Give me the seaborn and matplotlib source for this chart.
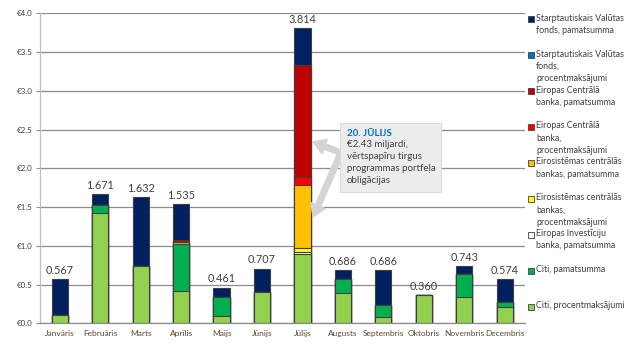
import numpy as np
import pandas as pd
import matplotlib
matplotlib.use("Agg")
import matplotlib.pyplot as plt
from matplotlib.patches import Rectangle
import seaborn as sns

# ---------------- data ----------------
months = ["Janvāris", "Februāris", "Marts", "Aprīlis", "Maijs", "Jūnijs",
          "Jūlijs", "Augusts", "Septembris", "Oktobris", "Novembris", "Decembris"]

# stack order bottom -> top
citi_proc     = [0.110, 1.420, 0.744, 0.423, 0.090, 0.400, 0.900, 0.385, 0.077, 0.360, 0.333, 0.205]
citi_pamat    = [0.000, 0.106, 0.000, 0.597, 0.250, 0.000, 0.000, 0.187, 0.153, 0.000, 0.307, 0.065]
eib_pamat     = [0.000, 0.000, 0.000, 0.000, 0.000, 0.000, 0.020, 0.000, 0.000, 0.000, 0.000, 0.000]
esb_proc      = [0.000, 0.000, 0.000, 0.000, 0.000, 0.000, 0.050, 0.000, 0.000, 0.000, 0.000, 0.000]
esb_pamat     = [0.000, 0.000, 0.000, 0.026, 0.000, 0.000, 0.810, 0.000, 0.000, 0.000, 0.000, 0.000]
ecb_proc      = [0.000, 0.000, 0.000, 0.000, 0.000, 0.000, 0.110, 0.000, 0.000, 0.000, 0.000, 0.000]
ecb_pamat     = [0.000, 0.000, 0.000, 0.024, 0.000, 0.000, 1.440, 0.000, 0.000, 0.000, 0.000, 0.000]
svf_proc      = [0.000, 0.000, 0.000, 0.000, 0.000, 0.000, 0.000, 0.000, 0.000, 0.000, 0.000, 0.000]
svf_pamat     = [0.457, 0.145, 0.888, 0.465, 0.121, 0.307, 0.484, 0.114, 0.456, 0.000, 0.103, 0.304]

series = [
    ("Citi, procentmaksājumi", citi_proc, "#92d050"),
    ("Citi, pamatsumma", citi_pamat, "#00b050"),
    ("Eiropas Investīciju\nbanka, pamatsumma", eib_pamat, "#ffffff"),
    ("Eirosistēmas centrālās\nbankas,\nprocentmaksājumi", esb_proc, "#ffff00"),
    ("Eirosistēmas centrālās\nbankas, pamatsumma", esb_pamat, "#ffc000"),
    ("Eiropas Centrālā\nbanka,\nprocentmaksājumi", ecb_proc, "#ff0000"),
    ("Eiropas Centrālā\nbanka, pamatsumma", ecb_pamat, "#c00000"),
    ("Starptautiskais Valūtas\nfonds,\nprocentmaksājumi", svf_proc, "#0070c0"),
    ("Starptautiskais Valūtas\nfonds, pamatsumma", svf_pamat, "#002060"),
]

yticks = [0.0, 0.5, 1.0, 1.5, 2.0, 2.5, 3.0, 3.5, 4.0]
ann_title = "20. JŪLIJS"
ann_text = "€2.43 miljardi,\nvērtspapīru tirgus\nprogrammas portfeļa\nobligācijas"

# ---------------- style ----------------
sns.set_style("white")
plt.rcParams["font.family"] = ["Lato", "DejaVu Sans"]

W, H = 627, 354
fig = plt.figure(figsize=(W / 100, H / 100), dpi=100)
ax_l, ax_r, ax_t, ax_b = 39.5, 525, 13.3, 323.3
ax = fig.add_axes([ax_l / W, 1 - ax_b / H, (ax_r - ax_l) / W, (ax_b - ax_t) / H])

# gridlines behind
ax.set_axisbelow(True)
ax.yaxis.grid(True, color="#8c8c8c", linewidth=0.9)

# stacked bars via cumulative overdraw (top layer first)
vals = np.array([s[1] for s in series])
cum = np.cumsum(vals, axis=0)
for i in range(len(series) - 1, -1, -1):
    df = pd.DataFrame({"month": months, "value": cum[i]})
    sns.barplot(data=df, x="month", y="value", order=months, color=series[i][2],
                saturation=1, width=0.4, edgecolor="#3f3f3f", linewidth=0.8,
                ax=ax, zorder=2)

totals = cum[-1]
for xi, t in enumerate(totals):
    ax.text(xi, t + 0.04, f"{t:.3f}", ha="center", va="bottom",
            fontsize=7.8, color="#404040")

ax.set_xlim(-0.5, len(months) - 0.5)
ax.set_ylim(0, 4.0)
ax.set_yticks(yticks)
ax.set_yticklabels([f"€{v:.1f}" for v in yticks], fontsize=5.8, color="#404040")
ax.set_xticks(range(len(months)))
ax.set_xticklabels(months, fontsize=6, color="#5a4633")
ax.set_xticks(np.arange(-0.5, len(months), 1.0), minor=True)
ax.tick_params(axis="x", which="major", length=0, pad=5)
ax.tick_params(axis="x", which="minor", length=3, color="#8c8c8c", width=0.8, direction="out")
ax.tick_params(axis="y", which="major", length=3, color="#8c8c8c", width=0.8, pad=2, left=True)
ax.set_xlabel("")
ax.set_ylabel("")
for s in ["top", "right"]:
    ax.spines[s].set_visible(False)
ax.spines["left"].set_color("#c0c0c0")
ax.spines["left"].set_linewidth(0.9)
ax.spines["bottom"].set_color("#8c8c8c")
ax.spines["bottom"].set_linewidth(0.9)

# annotation
arrow_kw = dict(arrowstyle="simple,head_length=0.9,head_width=1.1,tail_width=0.4",
                color="#d4d4d4", mutation_scale=10, shrinkA=0, shrinkB=0)
ax.annotate("", xy=(6.26, 2.34), xytext=(6.95, 2.2), arrowprops=arrow_kw, zorder=4)
ax.annotate("", xy=(6.26, 1.37), xytext=(6.95, 2.2), arrowprops=arrow_kw, zorder=4)
ax.add_patch(Rectangle((6.93, 1.70), 2.5, 0.88, facecolor="#ececec",
                       edgecolor="#dcdcdc", linewidth=0.8, zorder=5))
ax.text(7.1, 2.45, ann_title, fontsize=7, fontweight="bold", color="#0070c0",
        va="center", ha="left", zorder=6)
ax.text(7.1, 2.37, ann_text, fontsize=7, color="#404040", va="top", ha="left",
        linespacing=1.45, zorder=6)

# legend (manual, reverse of stack order)
for k, (label, _, col) in enumerate(series[::-1]):
    yc = 19.3 + k * 35.9
    fig.patches.append(Rectangle(((528) / W, 1 - (yc + 3) / H), 6 / W, 6 / H,
                                 transform=fig.transFigure, facecolor=col,
                                 edgecolor="#404040", linewidth=0.6))
    fig.text(536 / W, 1 - (yc - 5.5) / H, label, fontsize=6.4, color="#404040",
             va="top", ha="left", linespacing=1.45)

fig.savefig("out.png", dpi=100)
